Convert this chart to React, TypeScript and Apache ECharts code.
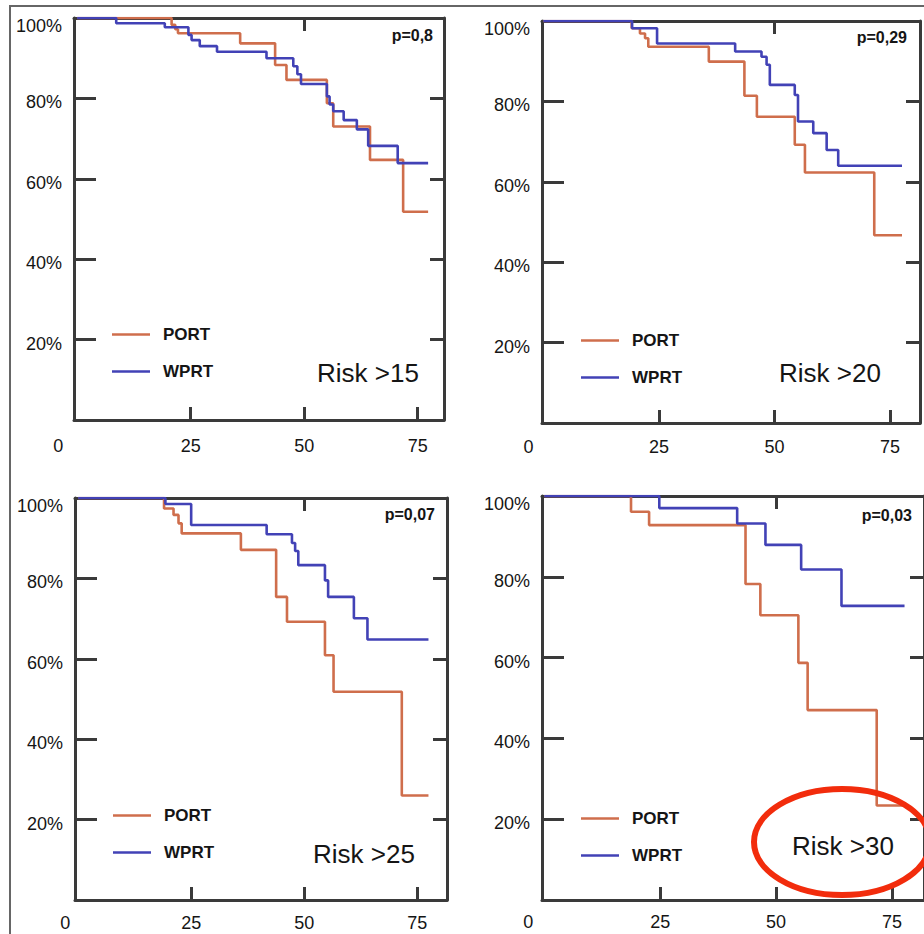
import React, { useEffect, useRef } from 'react';
import * as echarts from 'echarts';

// ---- Data ----
const panelTitles = ['Risk >15', 'Risk >20', 'Risk >25', 'Risk >30'];
const pValues = ['p=0,8', 'p=0,29', 'p=0,07', 'p=0,03'];
const seriesNames = ['PORT', 'WPRT'];
const xTickValues = [25, 50, 75];
const xTopTickValues = [50];
const xLabelValues = [0, 25, 50, 75];
const yTickValues = [20, 40, 60, 80];
const yLabelValues = [20, 40, 60, 80, 100];

// Risk >15
const r15PortTime = [0, 20.8, 21.6, 22.2, 35.9, 43.6, 46.1, 55, 56.4, 64.5, 71.8, 77.3];
const r15PortSurv = [100, 98.3, 97.2, 96.2, 93.7, 88.3, 84.6, 78.8, 73, 64.7, 51.8, 51.8];
const r15WprtTime = [0, 8.6, 19.3, 24.5, 25.2, 27, 30.8, 41.7, 47.6, 48.5, 49.3, 55, 55.6, 56.4, 58.7, 61.6, 64.1, 70.6, 77.3];
const r15WprtSurv = [100, 98.7, 97.7, 95.8, 94.5, 93, 91.6, 90, 88, 86, 83.6, 80.5, 78.5, 76.8, 74.6, 72.3, 68.2, 63.9, 63.9];

// Risk >20
const r20PortTime = [0, 19.1, 20.9, 22, 22.7, 35.8, 43.5, 46.2, 54.4, 56.6, 71.6, 77.6];
const r20PortSurv = [100, 98.2, 96.9, 95.7, 93.6, 89.9, 81.4, 76.2, 69.2, 62.3, 46.7, 46.7];
const r20WprtTime = [0, 19.2, 24.6, 41.5, 47.2, 48.3, 49, 54.4, 55.1, 58.4, 61.3, 63.8, 77.6];
const r20WprtSurv = [100, 98.2, 94.4, 92.4, 91.1, 89.1, 84.1, 81.6, 75, 72.1, 67.9, 64, 64];

// Risk >25
const r25PortTime = [0, 19, 21.1, 22.2, 22.9, 36, 43.8, 46.2, 54.6, 56.5, 71.6, 77.5];
const r25PortSurv = [100, 97.4, 95.8, 93.7, 91.2, 87.1, 75.4, 69.2, 60.9, 51.8, 26, 26];
const r25WprtTime = [0, 19.3, 25, 41.7, 47.3, 48, 48.7, 54.6, 55.3, 61, 64, 77.5];
const r25WprtSurv = [100, 98.5, 93.3, 91, 88.8, 86.8, 83.3, 79.5, 75.4, 70.1, 64.8, 64.8];

// Risk >30
const r30PortTime = [0, 18.7, 22.6, 43.4, 46.6, 54.8, 56.8, 71.7, 77.7];
const r30PortSurv = [100, 96.1, 92.8, 78.2, 70.5, 58.7, 47, 23.4, 23.4];
const r30WprtTime = [0, 24.8, 41.6, 47.7, 55.4, 64.1, 77.7];
const r30WprtSurv = [100, 97, 93.2, 87.9, 81.8, 72.8, 72.8];

const portCurves = [
  [r15PortTime, r15PortSurv],
  [r20PortTime, r20PortSurv],
  [r25PortTime, r25PortSurv],
  [r30PortTime, r30PortSurv],
];
const wprtCurves = [
  [r15WprtTime, r15WprtSurv],
  [r20WprtTime, r20WprtSurv],
  [r25WprtTime, r25WprtSurv],
  [r30WprtTime, r30WprtSurv],
];

// ---- Layout / style ----
const FONT = '"Liberation Sans", Arial, Helvetica, sans-serif';
const AXIS = '#3a3a3a';
const TEXT = '#151515';
const PORT_COLOR = '#cf6e4c';
const WPRT_COLOR = '#4242b6';

const layouts = [
  { left: 74, top: 18, width: 370, height: 402, xMin: -0.7, xMax: 80.8, zeroShift: 38, labelMargin: 17, legendLeft: 112, legendTop: 326, riskX: 317, riskY: 373, pX: 433, pY: 35 },
  { left: 542, top: 21, width: 378, height: 402, xMin: -0.3, xMax: 81.5, zeroShift: 30, labelMargin: 15, legendLeft: 581, legendTop: 332, riskX: 779, riskY: 373, pX: 907, pY: 37 },
  { left: 75, top: 498, width: 372, height: 402, xMin: -0.7, xMax: 81.6, zeroShift: 26, labelMargin: 14, legendLeft: 113, legendTop: 807, riskX: 313, riskY: 854, pX: 435, pY: 514 },
  { left: 542, top: 496, width: 384, height: 404, xMin: -0.5, xMax: 81.9, zeroShift: 32, labelMargin: 13, legendLeft: 581, legendTop: 810, riskX: 792, riskY: 846, pX: 912, pY: 515 },
];

function zip(t: number[], s: number[]) {
  return t.map((v, i) => [v, s[i]]);
}

function buildOption() {
  const grid: any[] = [];
  const xAxis: any[] = [];
  const yAxis: any[] = [];
  const series: any[] = [];
  const legend: any[] = [];
  const graphic: any[] = [];

  layouts.forEach((L, i) => {
    grid.push({ left: L.left, top: L.top, width: L.width, height: L.height, containLabel: false });
    const axisLine = { show: true, onZero: false, lineStyle: { color: AXIS, width: 3 } };
    xAxis.push({
      type: 'value', gridIndex: i, position: 'bottom', min: L.xMin, max: L.xMax,
      axisLine, splitLine: { show: false },
      axisTick: { show: true, inside: true, length: 13, customValues: xTickValues, lineStyle: { color: AXIS, width: 3 } },
      axisLabel: {
        show: true, customValues: xLabelValues, margin: L.labelMargin,
        fontSize: 18, fontFamily: FONT, color: TEXT,
        formatter: (v: number) => (v === 0 ? '{z|0}' : String(v)),
        rich: { z: { padding: [0, L.zeroShift, 0, 0], fontSize: 18, fontFamily: FONT, color: TEXT } },
      },
    });
    xAxis.push({
      type: 'value', gridIndex: i, position: 'top', min: L.xMin, max: L.xMax,
      axisLine, splitLine: { show: false },
      axisTick: { show: true, inside: true, length: 13, customValues: xTopTickValues, lineStyle: { color: AXIS, width: 3 } },
      axisLabel: { show: false },
    });
    yAxis.push({
      type: 'value', gridIndex: i, position: 'left', min: 0, max: 100,
      axisLine, splitLine: { show: false },
      axisTick: { show: true, inside: true, length: 22, customValues: yTickValues, lineStyle: { color: AXIS, width: 3 } },
      axisLabel: {
        show: true, customValues: yLabelValues, margin: 12,
        fontSize: 18, fontFamily: FONT, color: TEXT,
        formatter: (v: number) => (v === 100 ? '{t|100%}' : `{n|${v}%}`),
        rich: {
          n: { padding: [8, 0, 0, 0], fontSize: 18, fontFamily: FONT, color: TEXT },
          t: { padding: [16, 0, 0, 0], fontSize: 18, fontFamily: FONT, color: TEXT },
        },
      },
    });
    yAxis.push({
      type: 'value', gridIndex: i, position: 'right', min: 0, max: 100,
      axisLine, splitLine: { show: false },
      axisTick: { show: true, inside: true, length: 14, customValues: yTickValues, lineStyle: { color: AXIS, width: 3 } },
      axisLabel: { show: false },
    });

    const [pt, ps] = portCurves[i];
    const [wt, ws] = wprtCurves[i];
    series.push({
      type: 'line', name: seriesNames[0], xAxisIndex: 2 * i, yAxisIndex: 2 * i,
      step: 'end', symbol: 'none', data: zip(pt, ps), z: 3,
      itemStyle: { color: PORT_COLOR }, lineStyle: { color: PORT_COLOR, width: 2.6 },
    });
    series.push({
      type: 'line', name: seriesNames[1], xAxisIndex: 2 * i, yAxisIndex: 2 * i,
      step: 'end', symbol: 'none', data: zip(wt, ws), z: 4,
      itemStyle: { color: WPRT_COLOR }, lineStyle: { color: WPRT_COLOR, width: 2.6 },
    });

    legend.push({
      show: true, orient: 'vertical', left: L.legendLeft, top: L.legendTop, padding: 0,
      data: seriesNames, icon: 'rect', itemWidth: 38, itemHeight: 2.5, itemGap: 20,
      selectedMode: false,
      textStyle: { fontSize: 17, fontWeight: 'bold', fontFamily: FONT, color: TEXT, padding: [0, 0, 0, 8] },
    });

    graphic.push({
      type: 'text', x: L.riskX, y: L.riskY, z: 50,
      style: { text: panelTitles[i], fontSize: 26, fontFamily: FONT, fill: TEXT, align: 'left', verticalAlign: 'middle' },
    });
    graphic.push({
      type: 'text', x: L.pX, y: L.pY, z: 50,
      style: { text: pValues[i], fontSize: 16, fontWeight: 'bold', fontFamily: FONT, fill: TEXT, align: 'right', verticalAlign: 'middle' },
    });
  });

  graphic.push({
    type: 'polyline', z: 40,
    shape: { points: [[10, 934], [10, 6], [924, 6]] },
    style: { stroke: '#666', lineWidth: 2, fill: 'none' },
  });
  graphic.push({
    type: 'ellipse', z: 60,
    shape: { cx: 842, cy: 842, rx: 88, ry: 53 },
    style: { stroke: '#f22c0c', lineWidth: 6, fill: 'none' },
  });

  return {
    animation: false,
    backgroundColor: '#ffffff',
    grid, xAxis, yAxis, series, legend, graphic,
  };
}

export default function App() {
  const ref = useRef<HTMLDivElement>(null);
  useEffect(() => {
    if (!ref.current) return;
    const chart = echarts.init(ref.current, undefined, { renderer: 'svg' });
    chart.setOption(buildOption() as any);
    return () => chart.dispose();
  }, []);
  return (
    <div
      ref={ref}
      style={{ position: 'absolute', left: 0, top: 0, width: 924, height: 934, background: '#fff' }}
    />
  );
}
